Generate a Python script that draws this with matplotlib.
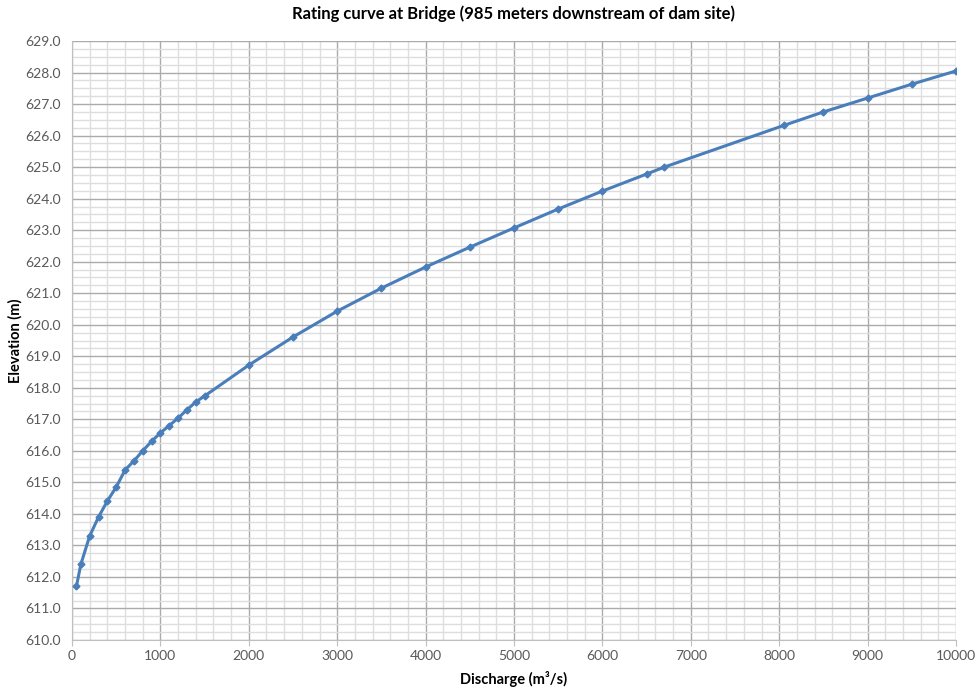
import matplotlib
matplotlib.use('Agg')
import matplotlib.pyplot as plt
from matplotlib.ticker import MultipleLocator, FormatStrFormatter

plt.rcParams['font.family'] = ['Lato', 'DejaVu Sans']

# discharge (m3/s) and water surface elevation (m)
discharge = [50, 100, 200, 300, 400, 500, 600, 700, 800, 900, 1000,
             1100, 1200, 1300, 1400, 1500, 2000, 2500, 3000, 3500, 4000,
             4500, 5000, 5500, 6000, 6500, 6700, 8050, 8500, 9000, 9500, 10000]
elevation = [611.70, 612.40, 613.30, 613.90, 614.41, 614.85, 615.39, 615.68,
             616.00, 616.30, 616.57, 616.80, 617.04, 617.30, 617.55, 617.74,
             618.72, 619.61, 620.43, 621.16, 621.83, 622.46, 623.07, 623.67,
             624.24, 624.78, 625.00, 626.32, 626.75, 627.19, 627.63, 628.05]

fig = plt.figure(figsize=(9.76, 6.93), dpi=100)
ax = fig.add_axes([72 / 976, 53 / 693, 884 / 976, 599 / 693])

ax.plot(discharge, elevation, color='#4a7ebb', lw=2.2, marker='D', ms=3.5,
        zorder=3)

ax.set_xlim(0, 10000)
ax.set_ylim(610, 629)
ax.xaxis.set_major_locator(MultipleLocator(1000))
ax.xaxis.set_minor_locator(MultipleLocator(200))
ax.yaxis.set_major_locator(MultipleLocator(1))
ax.yaxis.set_minor_locator(MultipleLocator(0.25))
ax.yaxis.set_major_formatter(FormatStrFormatter('%.1f'))

ax.grid(which='major', color='#ababab', lw=1.0)
ax.grid(which='minor', color='#dedede', lw=1.0)
ax.set_axisbelow(True)

for s in ['top', 'right']:
    ax.spines[s].set_visible(False)
for s in ['left', 'bottom']:
    ax.spines[s].set_color('#bfbfbf')

ax.tick_params(which='major', length=4, color='#bfbfbf', labelcolor='#595959',
               labelsize=10)
ax.tick_params(which='minor', length=0)
ax.tick_params(axis='y', length=0, pad=8)

ax.set_title('Rating curve at Bridge (985 meters downstream of dam site)',
             fontsize=12, fontweight='bold', pad=16)
ax.set_xlabel('Discharge (m³/s)', fontsize=10.5, fontweight='bold', labelpad=6)
ax.set_ylabel('Elevation (m)', fontsize=10.5, fontweight='bold')
ax.yaxis.set_label_coords(-0.056, 0.5)

fig.savefig('out.png', dpi=100)
